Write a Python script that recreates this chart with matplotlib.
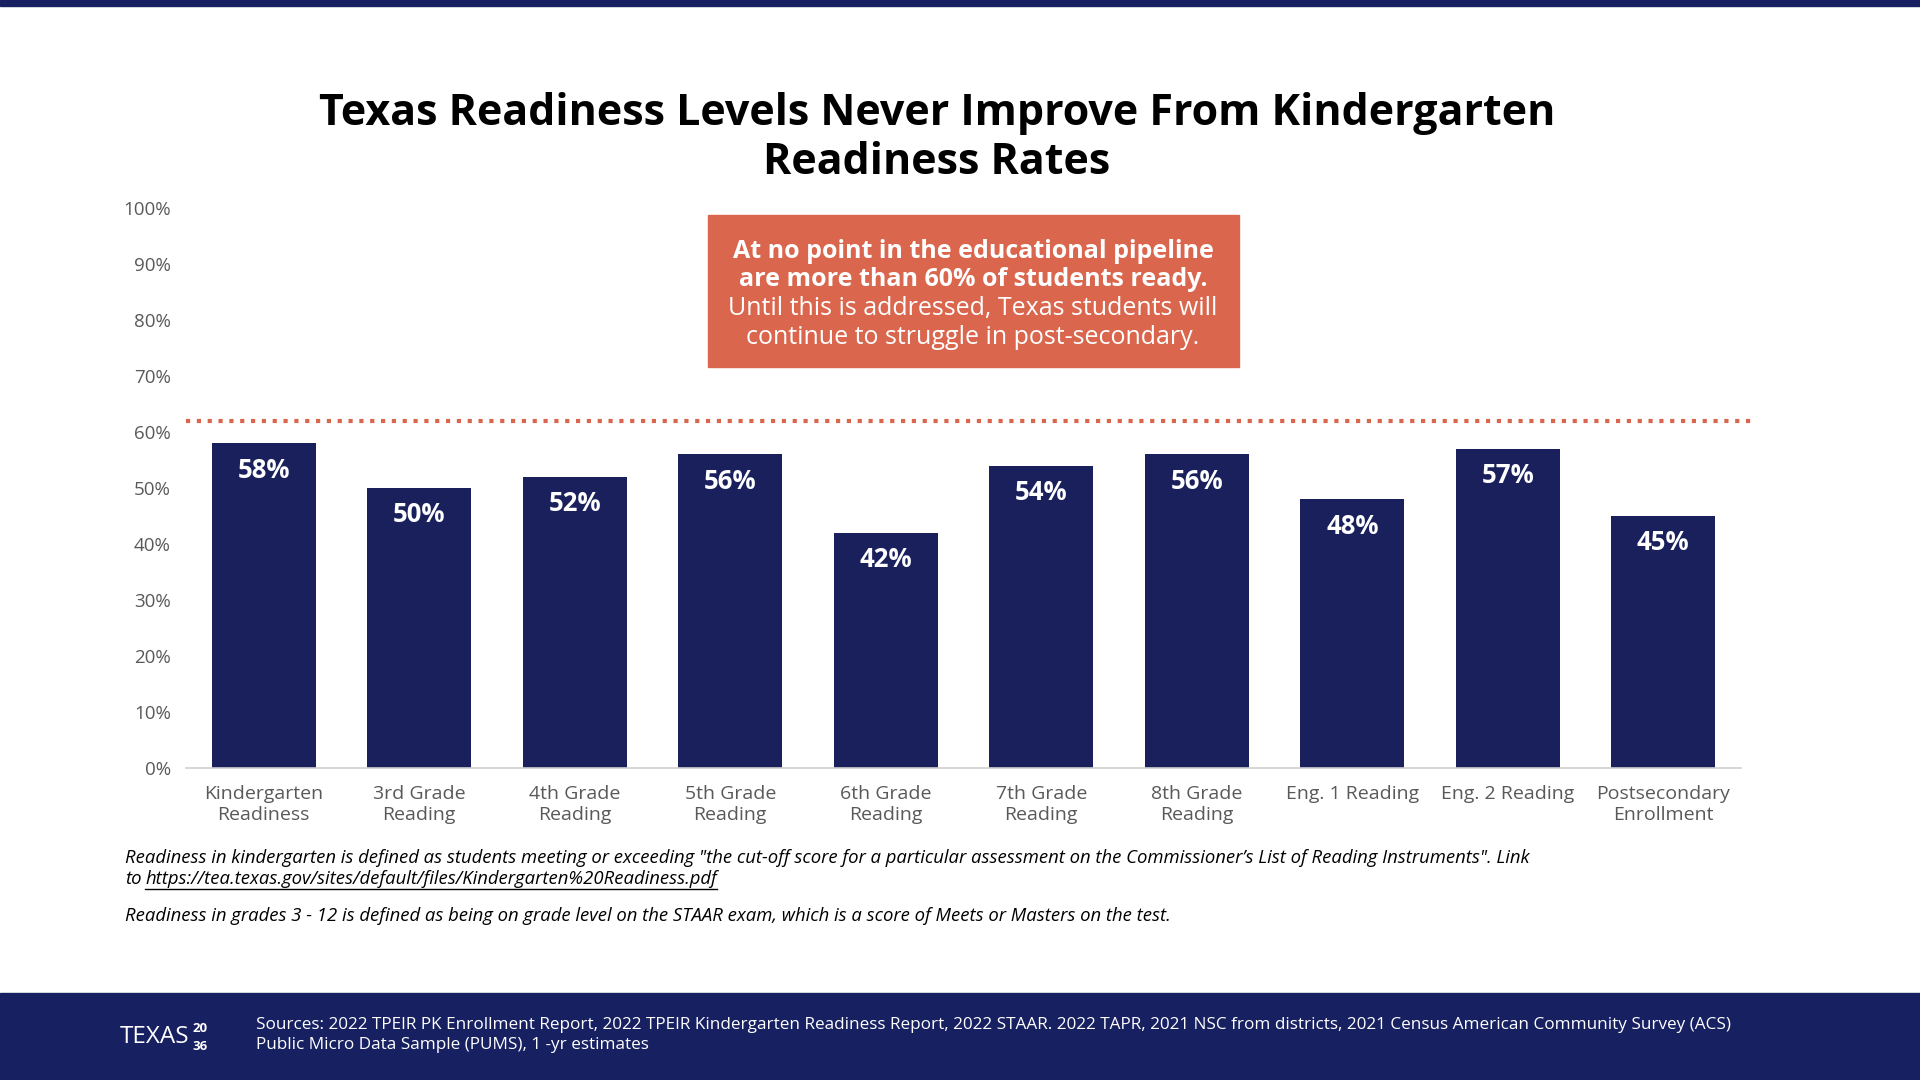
import numpy as np
import matplotlib.pyplot as plt
from matplotlib.patches import Rectangle

# data
categories = ['Kindergarten\nReadiness', '3rd Grade\nReading', '4th Grade\nReading',
              '5th Grade\nReading', '6th Grade\nReading', '7th Grade\nReading',
              '8th Grade\nReading', 'Eng. 1 Reading', 'Eng. 2 Reading',
              'Postsecondary\nEnrollment']
values = [58, 50, 52, 56, 42, 54, 56, 48, 57, 45]
threshold = 62
yticks = [0, 10, 20, 30, 40, 50, 60, 70, 80, 90, 100]

navy = '#19205C'
orange = '#D9664D'
grey = '#595959'

plt.rcParams['font.family'] = ['Open Sans', 'DejaVu Sans']

fig = plt.figure(figsize=(19.2, 10.8), dpi=100)
W, H = 1920, 1080

# axes placed in pixel coords
left, right, bottom, top = 186, 1741, 768, 208
ax = fig.add_axes([left / W, 1 - bottom / H, (right - left) / W, (bottom - top) / H])

x = np.arange(len(values))
ax.bar(x, values, width=0.67, color=navy, zorder=2)
for xi, v in zip(x, values):
    ax.text(xi, v - 2.4, f'{v}%', ha='center', va='top', color='white',
            fontsize=18.5, fontweight='bold')

# dotted 60% line
ax.plot([-0.5, 9.57], [threshold, threshold], color=orange, lw=3,
        linestyle=(0, (1, 1.6)), clip_on=False, zorder=3)

ax.set_xlim(-0.5, 9.5)
ax.set_ylim(0, 100)
ax.set_yticks(yticks)
ax.set_yticklabels([f'{t}%' for t in yticks], color=grey, fontsize=13.5)
ax.set_xticks(x)
ax.set_xticklabels(categories, color=grey, fontsize=14, linespacing=1.25)
ax.tick_params(axis='both', length=0)
ax.tick_params(axis='y', pad=11)
ax.tick_params(axis='x', pad=12)
for s in ['top', 'right', 'left']:
    ax.spines[s].set_visible(False)
ax.spines['bottom'].set_color('#D0D0D0')
ax.spines['bottom'].set_linewidth(1.2)

# top stripe and footer band
fig.patches.append(Rectangle((0, 1 - 6 / H), 1, 6 / H, transform=fig.transFigure,
                             color='#172060', zorder=0))
fig.patches.append(Rectangle((0, 0), 1, 87 / H, transform=fig.transFigure,
                             color='#172060', zorder=0))

# title
fig.text(937 / W, 1 - 138 / H,
         'Texas Readiness Levels Never Improve From Kindergarten\nReadiness Rates',
         ha='center', va='center', fontsize=31, fontweight='bold', color='black',
         linespacing=1.2)

# callout box
fig.patches.append(Rectangle((708 / W, 1 - 367 / H), 531 / W, 152 / H,
                             transform=fig.transFigure, color=orange, zorder=5))
bx = 973 / W
fig.text(bx, 1 - 251 / H, 'At no point in the educational pipeline', ha='center',
         va='center', color='white', fontsize=18, fontweight='bold', zorder=6)
fig.text(bx, 1 - 280 / H, 'are more than 60% of students ready.', ha='center',
         va='center', color='white', fontsize=18, fontweight='bold', zorder=6)
fig.text(bx, 1 - 309 / H, 'Until this is addressed, Texas students will', ha='center',
         va='center', color='white', fontsize=18, zorder=6)
fig.text(bx, 1 - 338 / H, 'continue to struggle in post-secondary.', ha='center',
         va='center', color='white', fontsize=18, zorder=6)

# footnotes
fs_note = 13.3
fig.text(125 / W, 1 - 858 / H,
         'Readiness in kindergarten is defined as students meeting or exceeding "the cut-off score '
         'for a particular assessment on the Commissioner\u2019s List of Reading Instruments". Link',
         ha='left', va='center', fontsize=fs_note, style='italic', color='black')
fig.text(125 / W, 1 - 879 / H, 'to', ha='left', va='center', fontsize=fs_note,
         style='italic', color='black')
url = fig.text(145 / W, 1 - 879 / H,
               'https://tea.texas.gov/sites/default/files/Kindergarten%20Readiness.pdf',
               ha='left', va='center', fontsize=fs_note, style='italic', color='black')
fig.text(125 / W, 1 - 916 / H,
         'Readiness in grades 3 - 12 is defined as being on grade level on the STAAR exam, '
         'which is a score of Meets or Masters on the test.',
         ha='left', va='center', fontsize=fs_note, style='italic', color='black')

# footer logo and sources
logo = fig.text(120 / W, 1 - 1037 / H, 'TEXAS', ha='left', va='center', color='white',
                fontsize=17.5, zorder=6)

# underline the link and place the logo digits using rendered extents
fig.canvas.draw()
inv = fig.transFigure.inverted()
bb = url.get_window_extent().transformed(inv)
fig.add_artist(plt.Line2D([bb.x0, bb.x1], [1 - 889 / H, 1 - 889 / H],
                          color='black', lw=1))
lx = logo.get_window_extent().transformed(inv).x1 + 3 / W
fig.text(lx, 1 - 1029 / H, '20', ha='left', va='center', color='white',
         fontsize=9.5, fontweight='bold', zorder=6)
fig.text(lx, 1 - 1046 / H, '36', ha='left', va='center', color='white',
         fontsize=9.5, fontweight='bold', zorder=6)

fig.text(256 / W, 1 - 1025 / H,
         'Sources: 2022 TPEIR PK Enrollment Report, 2022 TPEIR Kindergarten Readiness Report, '
         '2022 STAAR. 2022 TAPR, 2021 NSC from districts, 2021 Census American Community Survey (ACS)',
         ha='left', va='center', color='white', fontsize=12.3, zorder=6)
fig.text(256 / W, 1 - 1045 / H, 'Public Micro Data Sample (PUMS), 1 -yr estimates',
         ha='left', va='center', color='white', fontsize=12.3, zorder=6)

fig.savefig('out.png', dpi=100)
